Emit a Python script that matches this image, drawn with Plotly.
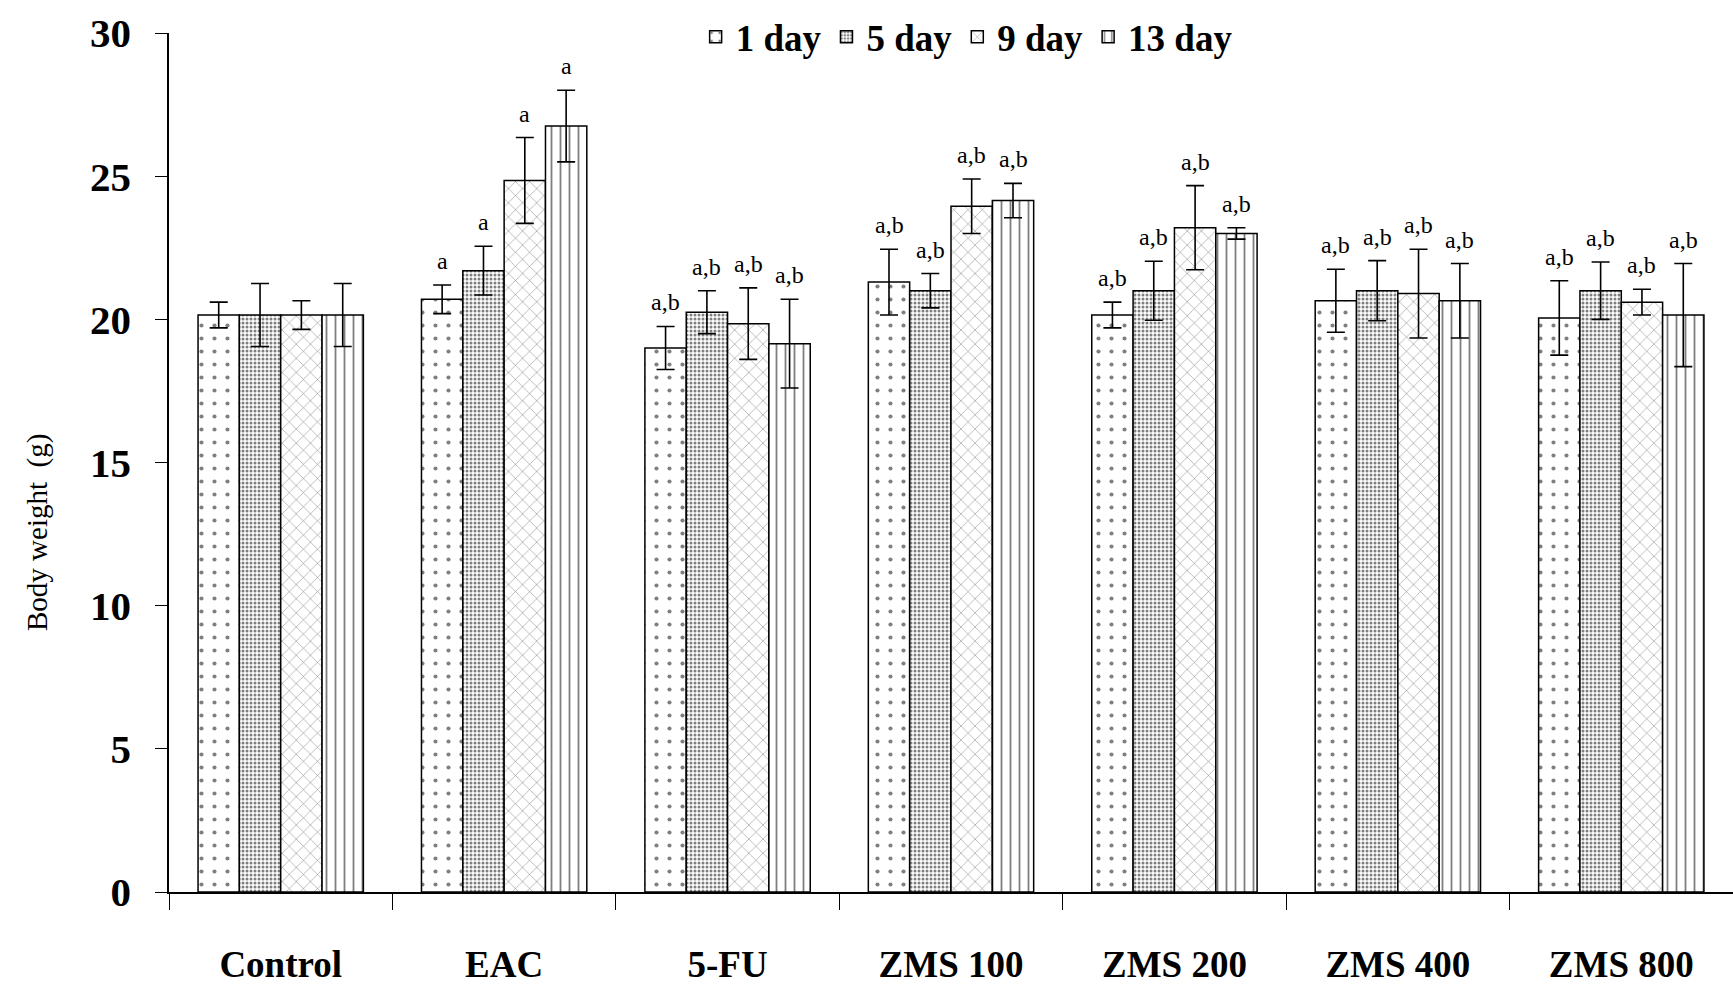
import plotly.graph_objects as go

categories = ["Control", "EAC", "5-FU", "ZMS 100", "ZMS 200", "ZMS 400", "ZMS 800"]
series_names = ["1 day", "5 day", "9 day", "13 day"]

day1 = [20.15, 20.7, 19.0, 21.3, 20.15, 20.65, 20.05]
day5 = [20.15, 21.7, 20.25, 21.0, 21.0, 21.0, 21.0]
day9 = [20.15, 24.85, 19.85, 23.95, 23.2, 20.9, 20.6]
day13 = [20.15, 26.75, 19.15, 24.15, 23.0, 20.65, 20.15]

err1 = [0.45, 0.5, 0.75, 1.15, 0.45, 1.1, 1.3]
err5 = [1.1, 0.85, 0.75, 0.6, 1.03, 1.05, 1.0]
err9 = [0.5, 1.5, 1.25, 0.95, 1.47, 1.55, 0.45]
err13 = [1.1, 1.25, 1.55, 0.6, 0.2, 1.3, 1.8]

sig_labels = ["", "a", "a,b", "a,b", "a,b", "a,b", "a,b"]

values = [day1, day5, day9, day13]
errors = [err1, err5, err9, err13]
patterns = [
    dict(shape=".", size=13, solidity=0.08, fgcolor="black", bgcolor="white", fillmode="overlay"),
    dict(shape=".", size=4, solidity=0.45, fgcolor="black", bgcolor="white", fillmode="overlay"),
    dict(shape="x", size=10, solidity=0.1, fgcolor="black", bgcolor="white", fillmode="overlay"),
    dict(shape="|", size=9, solidity=0.2, fgcolor="black", bgcolor="white", fillmode="overlay"),
]

serif = "Liberation Serif, Times New Roman, serif"

fig = go.Figure()
for name, vals, errs, pat in zip(series_names, values, errors, patterns):
    fig.add_trace(go.Bar(
        name=name, x=categories, y=vals,
        marker=dict(color="white", line=dict(color="black", width=1.5), pattern=pat),
        error_y=dict(type="data", array=errs, visible=True, color="black", thickness=1.6, width=9),
    ))

bargap = 0.26
nser = len(series_names)
bw = (1 - bargap) / nser
annotations = []
for j, (vals, errs) in enumerate(zip(values, errors)):
    for i, cat in enumerate(categories):
        lab = sig_labels[i]
        if not lab:
            continue
        xpos = i + (j - (nser - 1) / 2) * bw
        annotations.append(dict(
            x=xpos, y=vals[i] + errs[i], xref="x", yref="y", text=lab, showarrow=False,
            yanchor="bottom", yshift=9, font=dict(family=serif, size=24, color="black"),
        ))

plot_w = 1733 - 169
plot_h = 990 - 33 - 98
annotations.append(dict(
    x=(37 - 169) / plot_w, y=(990 - 98 - 533) / plot_h, xref="paper", yref="paper",
    text="Body weight  (g)", showarrow=False,
    textangle=-90, xanchor="center", yanchor="middle",
    font=dict(family=serif, size=29, color="black"),
))

fig.update_layout(
    width=1733, height=990,
    margin=dict(l=169, r=0, t=33, b=98),
    paper_bgcolor="white", plot_bgcolor="white",
    barmode="group", bargap=bargap, bargroupgap=0,
    annotations=annotations,
    legend=dict(
        orientation="h", x=0.51, xanchor="center", y=0.995, yanchor="middle",
        font=dict(family=serif, size=37, color="black", weight="bold"),
        bgcolor="rgba(0,0,0,0)", itemwidth=30, tracegroupgap=0,
    ),
    xaxis=dict(
        showline=True, linecolor="black", linewidth=1.5, automargin=False,
        ticks="outside", tickson="boundaries", ticklen=16, tickcolor="black", tickwidth=1.2,
        tickfont=dict(family=serif, size=37, color="black", weight="bold"),
        ticklabelstandoff=39, showgrid=False, zeroline=False,
    ),
    yaxis=dict(
        range=[0, 30], tickvals=[0, 5, 10, 15, 20, 25, 30], automargin=False,
        showline=True, linecolor="black", linewidth=1.5,
        ticks="outside", ticklen=12, tickcolor="black", tickwidth=1.2,
        tickfont=dict(family=serif, size=41, color="black", weight="bold"),
        ticklabelstandoff=16,
        showgrid=False, zeroline=False,
    ),
)

fig.write_html("out.html")
